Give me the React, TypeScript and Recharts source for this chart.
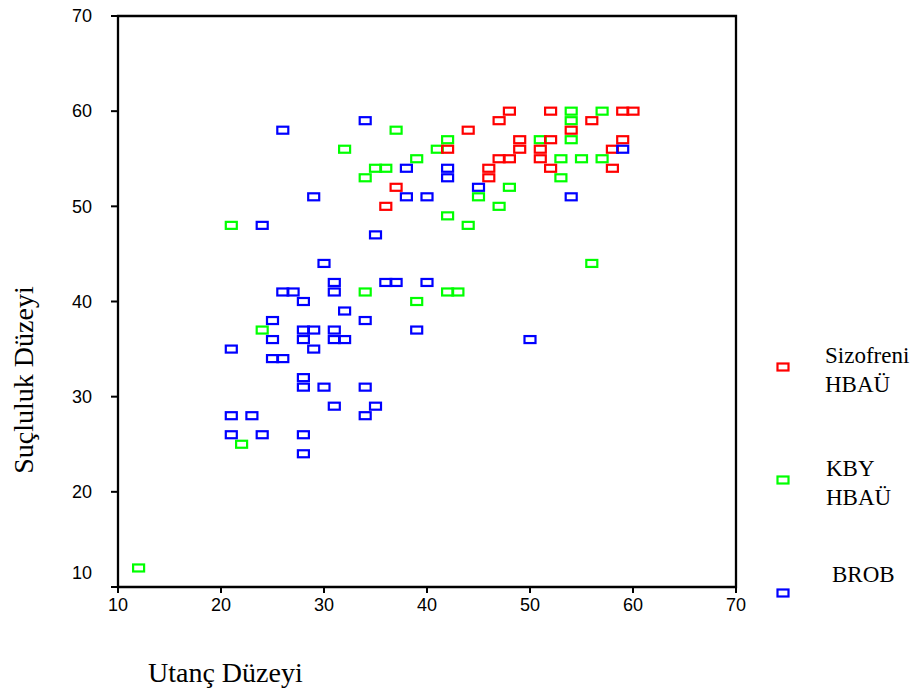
import {
  ScatterChart,
  Scatter,
  XAxis,
  YAxis,
  ReferenceArea,
} from "recharts";

const xTicks = [10, 20, 30, 40, 50, 60, 70];
const yTicks = [10, 20, 30, 40, 50, 60, 70];

// [utanç, suçluluk]
const sizofreniPoints = [
  [48, 60], [47, 59], [52, 60], [59, 60], [60, 60], [56, 59], [44, 58], [54, 58],
  [49, 57], [52, 57], [59, 57], [42, 56], [49, 56], [51, 56], [58, 56], [47, 55],
  [48, 55], [51, 55], [46, 54], [46, 53], [52, 54], [58, 54], [37, 52], [36, 50],
];

const kbyPoints = [
  [37, 58], [32, 56], [39, 55], [35, 54], [36, 54], [34, 53], [21, 48], [34, 41],
  [39, 40], [24, 37], [22, 25], [12, 12], [54, 60], [57, 60], [54, 59], [42, 57],
  [51, 57], [54, 57], [41, 56], [53, 55], [55, 55], [57, 55], [53, 53], [48, 52],
  [45, 51], [47, 50], [42, 49], [44, 48], [56, 44], [42, 41], [43, 41],
];

const brobPoints = [
  [34, 59], [26, 58], [38, 54], [38, 51], [40, 51], [29, 51], [24, 48], [35, 47],
  [30, 44], [31, 42], [36, 42], [37, 42], [40, 42], [26, 41], [27, 41], [31, 41],
  [28, 40], [32, 39], [25, 38], [34, 38], [28, 37], [29, 37], [31, 37], [39, 37],
  [25, 36], [28, 36], [31, 36], [32, 36], [21, 35], [29, 35], [25, 34], [26, 34],
  [28, 32], [28, 31], [30, 31], [34, 31], [31, 29], [35, 29], [21, 28], [23, 28],
  [34, 28], [21, 26], [24, 26], [28, 26], [28, 24], [59, 56], [42, 54], [42, 53],
  [45, 52], [54, 51], [50, 36],
];

const series = [
  { name: "KBY HBAÜ", lines: ["KBY", "HBAÜ"], color: "#00ff00", points: kbyPoints },
  { name: "Sizofreni HBAÜ", lines: ["Sizofreni", "HBAÜ"], color: "#ff0000", points: sizofreniPoints },
  { name: "BROB", lines: ["BROB"], color: "#0000ff", points: brobPoints },
];

// legend is listed in this order in the picture
const legendOrder = ["Sizofreni HBAÜ", "KBY HBAÜ", "BROB"];

const sans = "'Liberation Sans', Arial, sans-serif";
const serif = "'Liberation Serif', 'Times New Roman', serif";

const boxShape = (color: string) => (props: any) => {
  const { cx, cy } = props;
  return (
    <rect
      x={cx - 5.5}
      y={cy - 3.5}
      width={11}
      height={7}
      fill="none"
      stroke={color}
      strokeWidth={2.2}
    />
  );
};

const YTick = (props: any) => {
  const { x, y, payload } = props;
  const shift = payload.value === 10 ? -14 : 0;
  return (
    <text x={x} y={y + shift} dy="0.35em" textAnchor="end" fontSize={18} fontFamily={sans} fill="#000">
      {payload.value}
    </text>
  );
};

const XTick = (props: any) => {
  const { x, y, payload } = props;
  return (
    <text x={x} y={y} dy="0.71em" textAnchor="middle" fontSize={18} fontFamily={sans} fill="#000">
      {payload.value}
    </text>
  );
};

const legendPos = [
  { box: 367, text: 363, x: 825 },
  { box: 480, text: 476, x: 826 },
  { box: 593, text: 582, x: 832 },
];

export default function App() {
  return (
    <div style={{ position: "absolute", left: 0, top: 0, width: 920, height: 694, background: "#fff" }}>
      <ScatterChart width={920} height={694} margin={{ top: 16, right: 184, bottom: 77, left: 0 }}>
        <XAxis
          type="number"
          dataKey="x"
          domain={[10, 70]}
          ticks={xTicks}
          height={30}
          tickSize={6}
          tickMargin={5}
          tick={<XTick />}
          axisLine={{ stroke: "#000", strokeWidth: 2 }}
          tickLine={{ stroke: "#000", strokeWidth: 2 }}
        />
        <YAxis
          type="number"
          dataKey="y"
          domain={[10, 70]}
          ticks={yTicks}
          width={118}
          tickSize={7}
          tickMargin={19}
          tick={<YTick />}
          axisLine={{ stroke: "#000", strokeWidth: 2 }}
          tickLine={{ stroke: "#000", strokeWidth: 2 }}
        />
        <ReferenceArea x1={10} x2={70} y1={10} y2={70} fill="none" stroke="#000" strokeWidth={2.3} />
        {series.map((s) => (
          <Scatter
            key={s.name}
            name={s.name}
            data={s.points.map(([x, y]) => ({ x, y }))}
            shape={boxShape(s.color)}
            isAnimationActive={false}
          />
        ))}
      </ScatterChart>
      <svg width={920} height={694} style={{ position: "absolute", left: 0, top: 0, pointerEvents: "none" }}>
        <text
          x={33}
          y={380}
          transform="rotate(-90 33 380)"
          textAnchor="middle"
          fontSize={28}
          fontFamily={serif}
          fill="#000"
        >
          Suçluluk Düzeyi
        </text>
        <text x={148} y={682} fontSize={28} fontFamily={serif} fill="#000">
          Utanç Düzeyi
        </text>
        {legendOrder.map((name, i) => {
          const s = series.find((d) => d.name === name)!;
          const p = legendPos[i];
          return (
            <g key={name}>
              <rect x={783 - 5.5} y={p.box - 3.5} width={11} height={7} fill="none" stroke={s.color} strokeWidth={2.2} />
              {s.lines.map((line, j) => (
                <text key={line} x={p.x} y={p.text + j * 29} fontSize={23} fontFamily={serif} fill="#000">
                  {line}
                </text>
              ))}
            </g>
          );
        })}
      </svg>
    </div>
  );
}
